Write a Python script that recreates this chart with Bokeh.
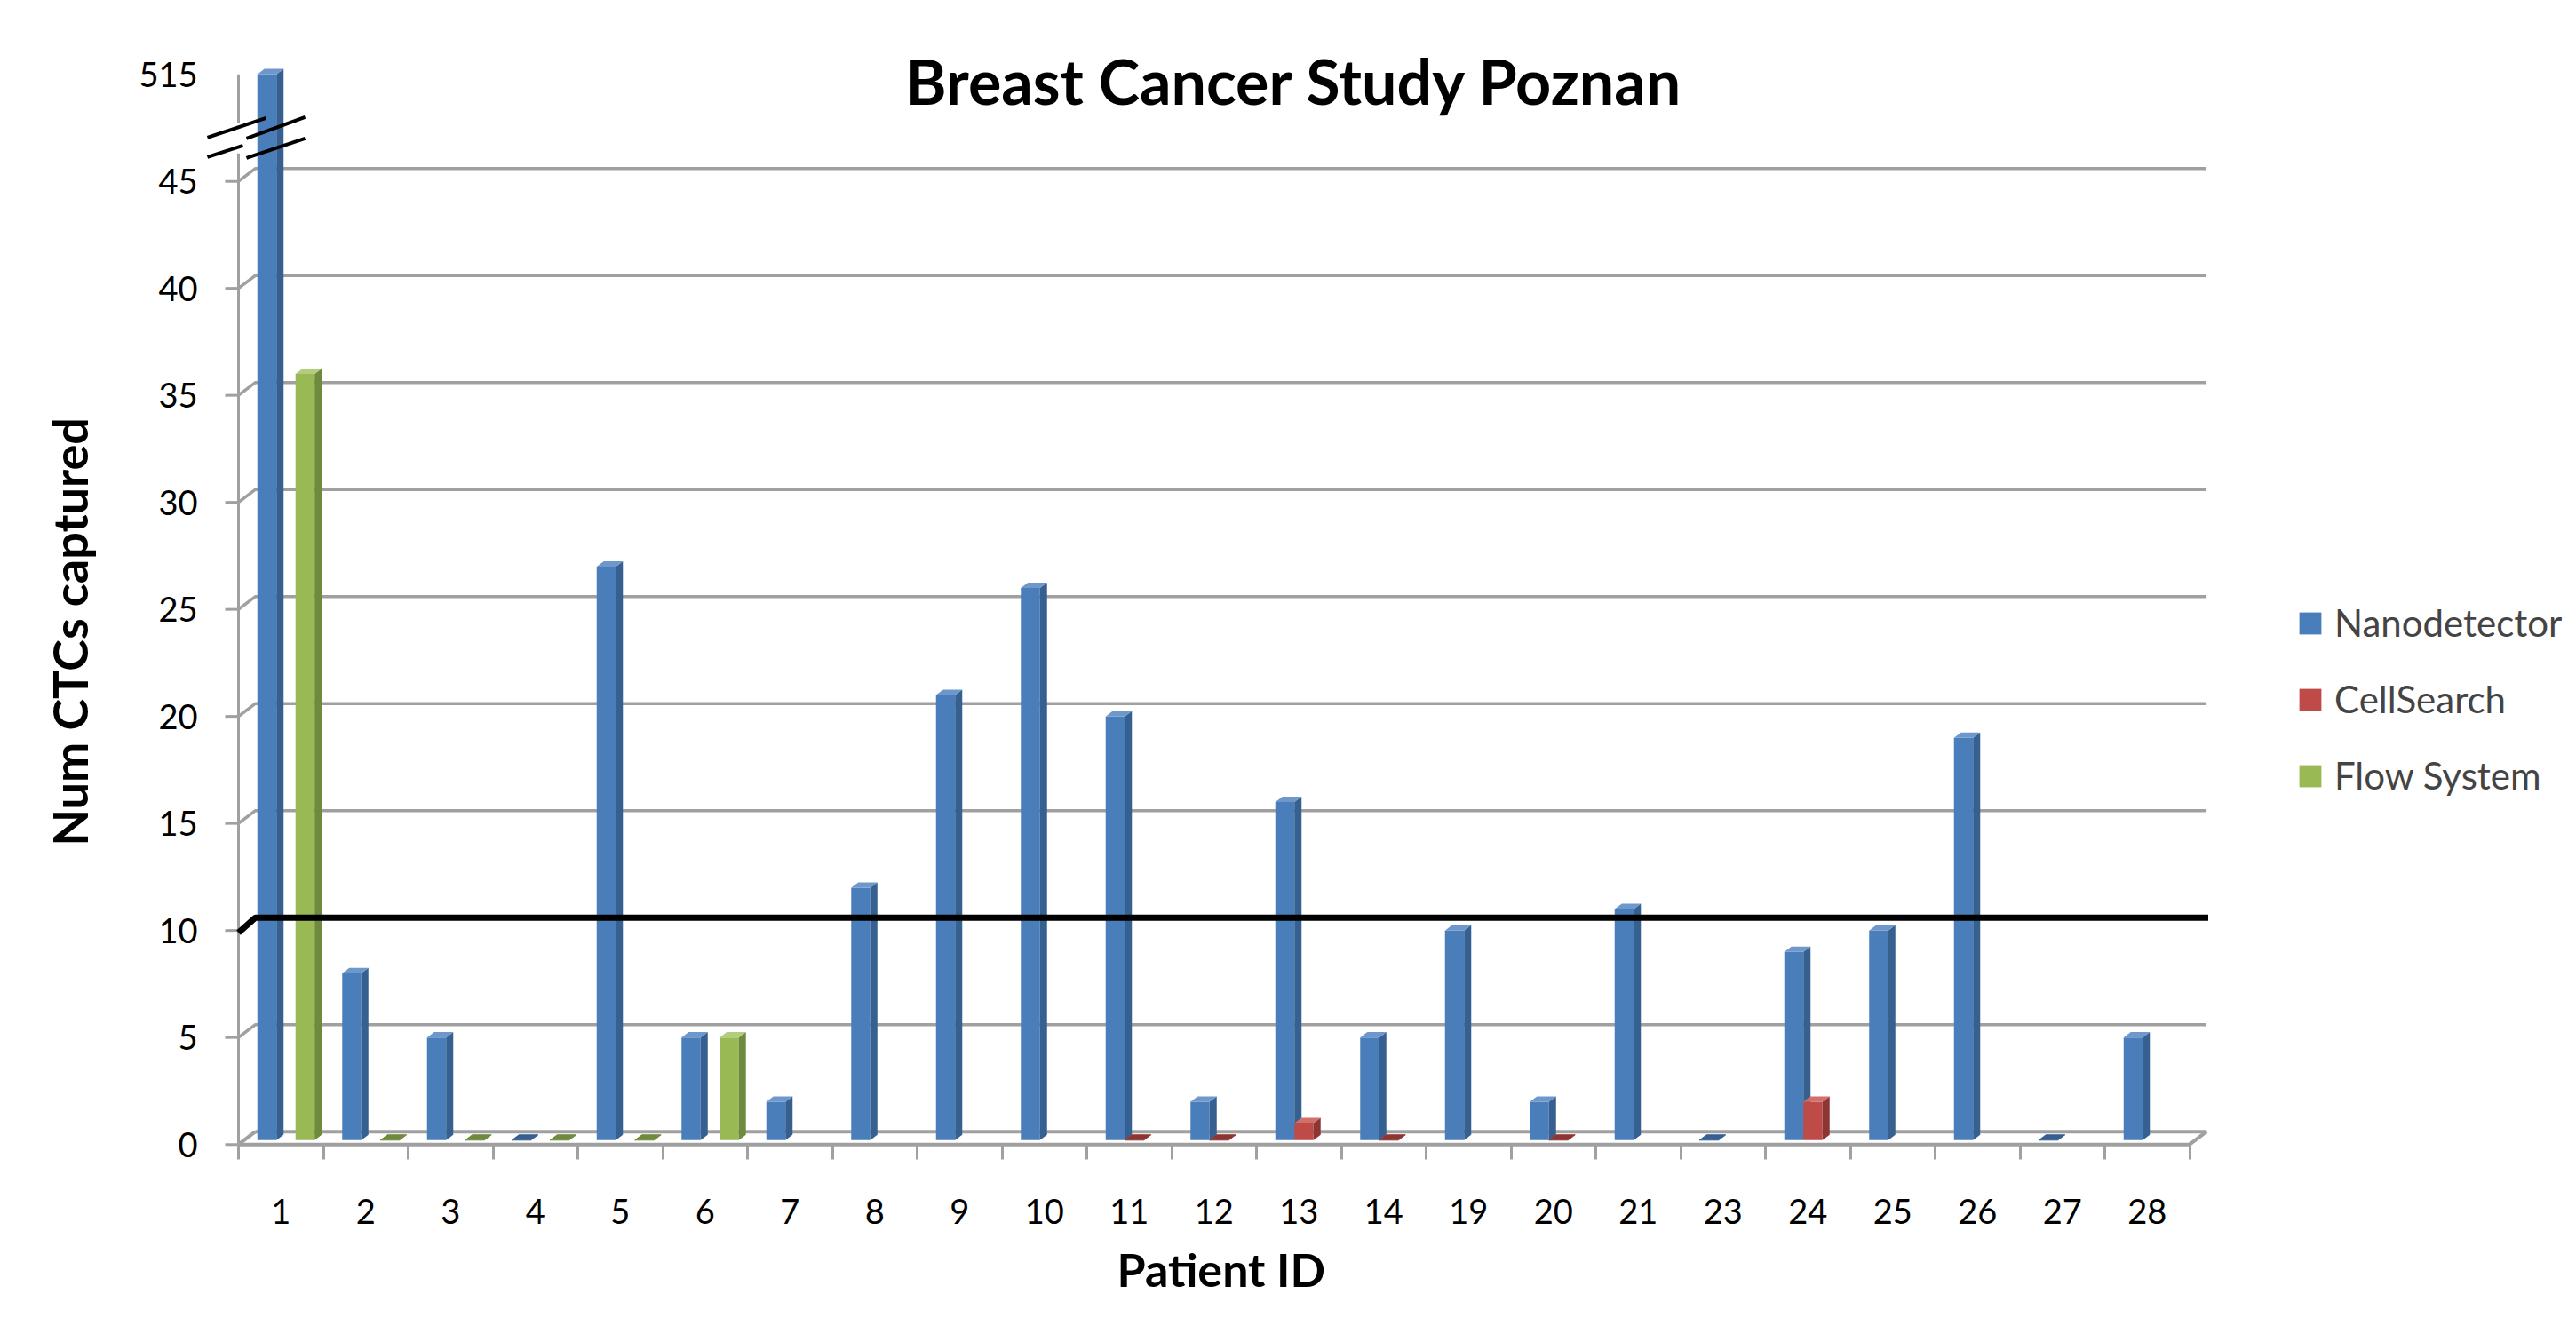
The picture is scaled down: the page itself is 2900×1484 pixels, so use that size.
import math
from bokeh.plotting import figure
from bokeh.models import FixedTicker, Label, Legend, LegendItem, Title
from bokeh.embed import file_html
from bokeh.resources import INLINE

# ---------------- data ----------------
patients = ["1", "2", "3", "4", "5", "6", "7", "8", "9", "10", "11", "12", "13",
            "14", "19", "20", "21", "23", "24", "25", "26", "27", "28"]
N = None
nanodetector = [515, 8, 5, 0, 27, 5, 2, 12, 21, 26, 20, 2, 16, 5, 10, 2, 11, 0, 9, 10, 19, 0, 5]
cellsearch = [N, N, N, N, N, N, N, N, N, N, 0, 0, 1, 0, N, 0, N, N, 2, N, N, N, N]
flow_system = [36, 0, 0, 0, 0, 5, N, N, N, N, N, N, N, N, N, N, N, N, N, N, N, N, N]
series_names = ["Nanodetector", "CellSearch", "Flow System"]
series_values = [nanodetector, cellsearch, flow_system]
y_tick_values = [0, 5, 10, 15, 20, 25, 30, 35, 40, 45]
break_low = 45
break_top = 515
threshold = 10
title_text = "Breast Cancer Study Poznan"
y_title = "Num CTCs captured"
x_title = "Patient ID"

# ---------------- style / layout ----------------
FONT = "Lato"
front_colors = ["#4A7EBB", "#BE4B48", "#98B954"]
side_colors = ["#36608F", "#8E3533", "#6F8A3C"]
top_colors = ["#6E97CB", "#D26E6B", "#B3CD7E"]
GRAY = "#a0a0a0"

W_FIG, H_FIG = 2900, 1484
FRAME_LEFT = 225
FRAME_BOTTOM_PAD = 179
PX_X = 95.5
PX_Y = 24.1
AX = 0.5
AX_PX_FROM_FRAME = 43
Y_START = -0.7
frame_w = W_FIG - FRAME_LEFT
frame_h = H_FIG - FRAME_BOTTOM_PAD
x_start = AX - AX_PX_FROM_FRAME / PX_X
x_end = x_start + frame_w / PX_X
y_end = Y_START + frame_h / PX_Y

BREAK_SPAN = 5.0
DX, DY = 0.2, 0.6
BAR_W = 0.225
offsets = [-0.165, 0.06, 0.285]
SIDE_W = 0.084
SIDE_RISE = 0.25
BASE = 0.2
n = len(patients)


def to_plot(v):
    if v <= break_low:
        return float(v)
    return break_low + (v - break_low) * BREAK_SPAN / (break_top - break_low)


top_tick = int(round(to_plot(break_top)))

p = figure(width=W_FIG, height=H_FIG, x_range=(x_start, x_end), y_range=(Y_START, y_end),
           output_backend="svg", toolbar_location=None, title=None,
           min_border_left=FRAME_LEFT, min_border_right=0, min_border_top=0,
           min_border_bottom=FRAME_BOTTOM_PAD)
p.outline_line_color = None
p.xgrid.visible = False
p.ygrid.visible = False
p.background_fill_color = "white"
p.border_fill_color = "white"

# axes (tick labels through Bokeh axes)
centers = list(range(1, n + 1))
p.xaxis.ticker = FixedTicker(ticks=centers, minor_ticks=[c - 0.5 for c in centers] + [n + 0.5])
p.xaxis.major_label_overrides = {c: lab for c, lab in zip(centers, patients)}
p.yaxis.ticker = FixedTicker(ticks=y_tick_values + [top_tick], minor_ticks=[])
p.yaxis.major_label_overrides = {top_tick: str(break_top)}
for ax in (p.xaxis[0], p.yaxis[0]):
    ax.axis_line_color = None
    ax.major_tick_line_color = None
    ax.major_tick_in = 0
    ax.major_tick_out = 0
    ax.major_label_text_font = FONT
    ax.major_label_text_font_size = "38px"
    ax.major_label_text_color = "black"
p.xaxis.minor_tick_line_color = GRAY
p.xaxis.minor_tick_line_width = 3
p.xaxis.minor_tick_in = 17
p.xaxis.minor_tick_out = 0
p.xaxis.major_label_standoff = 44
p.yaxis.minor_tick_line_color = None
p.yaxis.major_label_standoff = 3

# floor
right = AX + n
floor_xs = [[AX, right], [AX + DX, right + DX], [AX, AX + DX], [right, right + DX]]
floor_ys = [[0, 0], [DY, DY], [0, DY], [0, DY]]
p.multi_line(floor_xs, floor_ys, line_color=GRAY, line_width=4)

# back-wall gridlines
g_xs, g_ys = [], []
for v in y_tick_values[1:]:
    if v == threshold:
        continue
    g_xs.append([AX, AX + DX, right + DX])
    g_ys.append([v, v + DY, v + DY])
p.multi_line(g_xs, g_ys, line_color=GRAY, line_width=3.5)

# value axis line with break gap, and its ticks
gap_lo, gap_hi = 46.3, 47.7
p.multi_line([[AX, AX], [AX, AX]], [[0, gap_lo], [gap_hi, to_plot(break_top)]],
             line_color=GRAY, line_width=3)
tick_len = 15 / PX_X
p.multi_line([[AX - tick_len, AX] for v in y_tick_values], [[v, v] for v in y_tick_values],
             line_color=GRAY, line_width=3)

# 3D bars
legend_items = []
for s, (name, vals) in enumerate(zip(series_names, series_values)):
    fl, fr, fb, ft = [], [], [], []
    side_xs, side_ys, top_xs, top_ys = [], [], [], []
    flat_xs, flat_ys = [], []
    for i, v in enumerate(vals):
        if v is None:
            continue
        c = centers[i]
        xl = c + offsets[s] - BAR_W / 2
        xr = xl + BAR_W
        t = max(to_plot(v), BASE)
        if v > 0:
            fl.append(xl); fr.append(xr); fb.append(BASE); ft.append(t)
            side_xs.append([xr, xr + SIDE_W, xr + SIDE_W, xr])
            side_ys.append([BASE, BASE + SIDE_RISE, t + SIDE_RISE, t])
            top_xs.append([xl, xr, xr + SIDE_W, xl + SIDE_W])
            top_ys.append([t, t, t + SIDE_RISE, t + SIDE_RISE])
        else:
            flat_xs.append([xl, xr, xr + SIDE_W, xl + SIDE_W])
            flat_ys.append([t, t, t + SIDE_RISE, t + SIDE_RISE])
    r = p.quad(left=fl, right=fr, bottom=fb, top=ft, fill_color=front_colors[s], line_color=None)
    p.patches(side_xs, side_ys, fill_color=side_colors[s], line_color=None)
    p.patches(top_xs, top_ys, fill_color=top_colors[s], line_color=None)
    if flat_xs:
        p.patches(flat_xs, flat_ys, fill_color=side_colors[s], line_color=side_colors[s], line_width=1)
    legend_items.append(LegendItem(label=name, renderers=[r]))

# threshold line on the back wall
p.line([AX, AX + DX, right + DX + 0.02], [threshold - 0.1, threshold + DY, threshold + DY],
       line_color="black", line_width=7)

# axis break marks
anchor_y = 47.0
pieces = [((-35, -1), (31, -23)), ((-35, 21), (5, 8)), ((9, 0), (75, -24)), ((9, 22), (75, 0))]
b_xs, b_ys = [], []
for (x0, y0), (x1, y1) in pieces:
    b_xs.append([AX + x0 / PX_X, AX + x1 / PX_X])
    b_ys.append([anchor_y - y0 / PX_Y, anchor_y - y1 / PX_Y])
p.multi_line(b_xs, b_ys, line_color="black", line_width=4)

# legend
legend = Legend(items=legend_items, location=(2360, 407), orientation="vertical",
                glyph_width=31, glyph_height=31, label_text_font=FONT,
                label_text_font_size="42px", label_standoff=12, spacing=36,
                padding=0, margin=0, border_line_color=None, background_fill_alpha=0)
p.add_layout(legend)

# chart title (inside the frame area)
p.add_layout(Label(x=1232, y=1215, x_units="screen", y_units="screen", text=title_text,
                   text_font=FONT, text_font_style="bold", text_font_size="70px",
                   text_align="center", text_baseline="alphabetic", text_color="black"))

# axis titles
p.add_layout(Title(text=y_title, align="left", offset=353, standoff=86, text_font=FONT,
                   text_font_style="bold", text_font_size="54px", text_color="black"), "left")
p.add_layout(Title(text=x_title, align="left", offset=1032, standoff=31, text_font=FONT,
                   text_font_style="bold", text_font_size="52px", text_color="black"), "below")

open("out.html", "w").write(file_html(p, INLINE))
